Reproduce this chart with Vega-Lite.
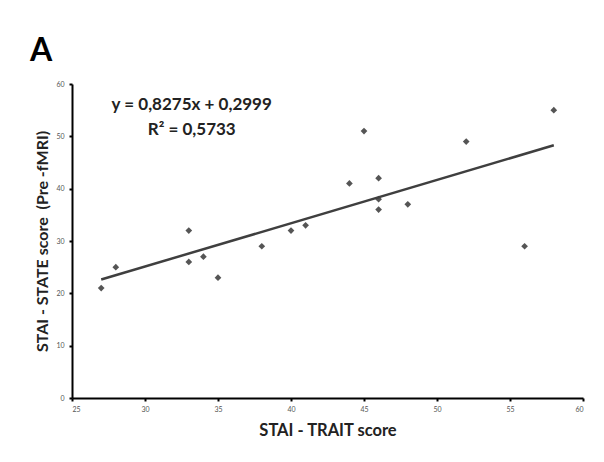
{
  "$schema": "https://vega.github.io/schema/vega-lite/v6.json",
  "width": 511,
  "height": 314,
  "autosize": {"type": "none"},
  "padding": {"left": 72, "top": 84, "right": 21, "bottom": 64},
  "background": "white",
  "title": {
    "text": "A",
    "anchor": "start",
    "frame": "group",
    "fontSize": 32,
    "fontWeight": "bold",
    "font": "Lato",
    "color": "black",
    "dx": -42,
    "offset": 12
  },
  "config": {
    "view": {"stroke": null},
    "axis": {
      "grid": false,
      "domainColor": "black",
      "domainWidth": 2,
      "tickColor": "black",
      "tickWidth": 2,
      "tickSize": 3,
      "labelFont": "Lato",
      "labelFontSize": 7,
      "labelColor": "#555555",
      "titleFont": "Lato",
      "titleFontWeight": "bold",
      "titleColor": "#222222"
    }
  },
  "data": {
    "values": [
      {"trait": 27, "state": 21},
      {"trait": 28, "state": 25},
      {"trait": 33, "state": 32},
      {"trait": 33, "state": 26},
      {"trait": 34, "state": 27},
      {"trait": 35, "state": 23},
      {"trait": 38, "state": 29},
      {"trait": 40, "state": 32},
      {"trait": 41, "state": 33},
      {"trait": 44, "state": 41},
      {"trait": 45, "state": 51},
      {"trait": 46, "state": 42},
      {"trait": 46, "state": 38},
      {"trait": 46, "state": 36},
      {"trait": 48, "state": 37},
      {"trait": 52, "state": 49},
      {"trait": 56, "state": 29},
      {"trait": 58, "state": 55}
    ]
  },
  "layer": [
    {
      "mark": {"type": "point", "shape": "diamond", "filled": true, "size": 45, "color": "#555555", "opacity": 1},
      "encoding": {
        "x": {
          "field": "trait", "type": "quantitative",
          "scale": {"domain": [25, 60], "nice": false, "zero": false},
          "axis": {"values": [25, 30, 35, 40, 45, 50, 55, 60], "title": "STAI - TRAIT score", "titleFontSize": 16.5, "titlePadding": 10, "labelPadding": 4}
        },
        "y": {
          "field": "state", "type": "quantitative",
          "scale": {"domain": [0, 60], "nice": false},
          "axis": {"values": [0, 10, 20, 30, 40, 50, 60], "title": "STAI - STATE score\u00a0\u00a0(Pre -fMRI)", "titleFontSize": 16, "titlePadding": 5, "labelPadding": 5}
        }
      }
    },
    {
      "transform": [{"regression": "state", "on": "trait", "method": "linear", "extent": [27, 58]}],
      "mark": {"type": "line", "color": "#3f3f3f", "strokeWidth": 2.5},
      "encoding": {
        "x": {"field": "trait", "type": "quantitative"},
        "y": {"field": "state", "type": "quantitative"}
      }
    },
    {
      "data": {"values": [
        {"tx": 33.2, "ty": 56, "label": "y = 0,8275x + 0,2999"},
        {"tx": 33.2, "ty": 51.2, "label": "R² = 0,5733"}
      ]},
      "mark": {"type": "text", "font": "Lato", "fontWeight": "bold", "fontSize": 17, "color": "#222222", "align": "center", "baseline": "middle"},
      "encoding": {
        "x": {"field": "tx", "type": "quantitative"},
        "y": {"field": "ty", "type": "quantitative"},
        "text": {"field": "label"}
      }
    }
  ]
}
